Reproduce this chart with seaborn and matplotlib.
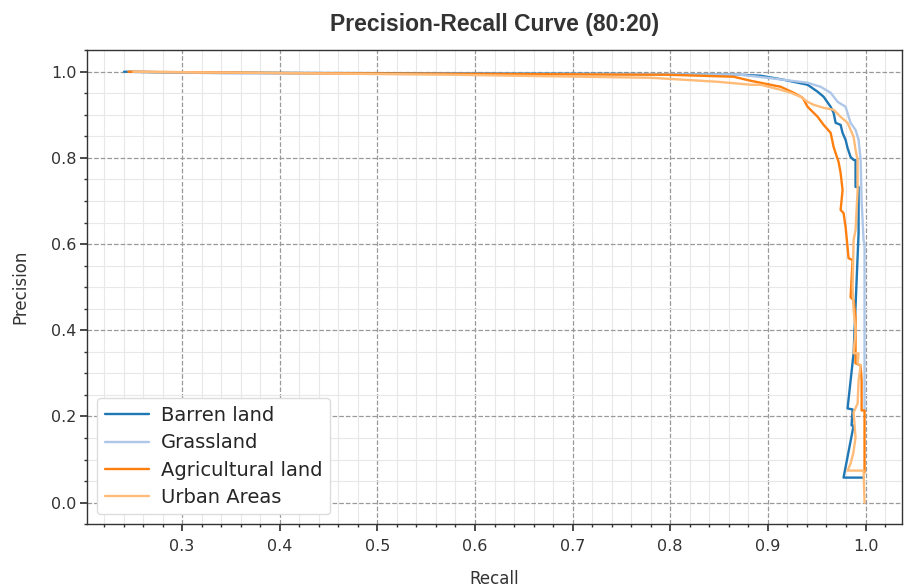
import matplotlib
matplotlib.use("Agg")
import matplotlib.pyplot as plt
import seaborn as sns
import pandas as pd
from matplotlib import font_manager
from matplotlib.ticker import MultipleLocator

# ---- data ----
classes = ["Barren land", "Grassland", "Agricultural land", "Urban Areas"]

barren_recall = [0.2406, 0.30, 0.45, 0.60, 0.75, 0.8722, 0.8926, 0.9162, 0.9407, 0.951,
                 0.9571, 0.9643, 0.9673, 0.9694, 0.9745, 0.9765, 0.9796, 0.9816, 0.9847,
                 0.9878, 0.9898, 0.9898, 0.9929, 0.9929, 0.9878, 0.9816, 0.9868, 0.9857,
                 0.9878, 0.9775, 0.998]
barren_precision = [1.0, 0.998, 0.997, 0.996, 0.995, 0.993, 0.9907, 0.9814, 0.9698, 0.9535,
                    0.9419, 0.9186, 0.9047, 0.8814, 0.8767, 0.8581, 0.8419, 0.8233, 0.8023,
                    0.7953, 0.7953, 0.7326, 0.7326, 0.6256, 0.3465, 0.2186, 0.2163, 0.1791,
                    0.1791, 0.0581, 0.0581]

grass_recall = [0.25, 0.35, 0.50, 0.65, 0.80, 0.8722, 0.9029, 0.9407, 0.954, 0.9643, 0.9714,
                0.9796, 0.9847, 0.9898, 0.9929, 0.995, 0.996, 0.997, 0.998, 0.999, 0.999]
grass_precision = [1.0, 0.996, 0.995, 0.995, 0.994, 0.993, 0.985, 0.9744, 0.9651, 0.9512,
                   0.9302, 0.9186, 0.8814, 0.8651, 0.8419, 0.7953, 0.70, 0.6558, 0.6093,
                   0.60, 0.21]

agri_recall = [0.245, 0.40, 0.60, 0.7974, 0.865, 0.8824, 0.9131, 0.9264, 0.9356, 0.9407,
               0.951, 0.9571, 0.9643, 0.9673, 0.9724, 0.9745, 0.9765, 0.9745, 0.9775, 0.9796,
               0.9816, 0.9826, 0.9868, 0.9847, 0.9878, 0.9898, 0.9898, 0.995, 0.996, 0.996,
               0.999, 0.999]
agri_precision = [1.0, 0.997, 0.995, 0.993, 0.9884, 0.979, 0.9651, 0.9512, 0.9395, 0.9186,
                  0.8953, 0.8767, 0.8581, 0.8256, 0.7907, 0.7651, 0.7256, 0.6791, 0.6721,
                  0.6395, 0.593, 0.5674, 0.5628, 0.4767, 0.4698, 0.4302, 0.3233, 0.3186,
                  0.2837, 0.214, 0.214, 0.07]

urban_recall = [0.25, 0.40, 0.5753, 0.78, 0.8138, 0.8486, 0.8824, 0.8926, 0.9131, 0.9233,
                0.9335, 0.9407, 0.9469, 0.9571, 0.9673, 0.9745, 0.9816, 0.9878, 0.9898,
                0.9919, 0.9919, 0.9898, 0.9878, 0.9868, 0.9878, 0.9898, 0.9878, 0.9929,
                0.9919, 0.995, 0.9929, 0.9919, 0.9878, 0.9898, 0.9875, 0.9847, 0.9816,
                0.998, 0.999]
urban_precision = [1.0, 0.997, 0.993, 0.986, 0.9814, 0.9767, 0.9698, 0.9698, 0.9581, 0.9512,
                   0.9419, 0.9302, 0.9233, 0.9163, 0.9116, 0.8953, 0.8814, 0.8488, 0.8186,
                   0.7953, 0.7256, 0.6326, 0.6093, 0.50, 0.4465, 0.40, 0.3465, 0.3465,
                   0.3233, 0.3186, 0.2837, 0.2302, 0.2093, 0.1512, 0.115, 0.0907, 0.0744,
                   0.0744, 0.0]

recalls = [barren_recall, grass_recall, agri_recall, urban_recall]
precisions = [barren_precision, grass_precision, agri_precision, urban_precision]
colors = ["#1f77b4", "#aec7e8", "#ff7f0e", "#ffbb78"]

# ---- styling ----
sns.set_theme(style="ticks")
plt.rcParams["font.family"] = ["DejaVu Sans"]

avail = {f.name for f in font_manager.fontManager.ttflist}
title_font = "Liberation Sans Narrow" if "Liberation Sans Narrow" in avail else "Liberation Sans"

fig = plt.figure(figsize=(9.07, 5.87), dpi=100)
ax = fig.add_axes([0.096, 0.107, 0.898, 0.8075])

for i, name in enumerate(classes):
    df = pd.DataFrame({"Recall": recalls[i], "Precision": precisions[i]})
    sns.lineplot(data=df, x="Recall", y="Precision", sort=False, estimator=None,
                 color=colors[i], lw=1.7, label=name, ax=ax)

ax.xaxis.set_major_locator(MultipleLocator(0.1))
ax.xaxis.set_minor_locator(MultipleLocator(0.02))
ax.yaxis.set_major_locator(MultipleLocator(0.2))
ax.yaxis.set_minor_locator(MultipleLocator(0.05))
ax.grid(which="major", linestyle="--", color="#999999", linewidth=0.9)
ax.grid(which="minor", linestyle="-", color="#e8e8e8", linewidth=0.8)
ax.set_axisbelow(True)
ax.tick_params(axis="both", which="major", labelsize=11.5, length=5, color="#333333", labelcolor="#333333")
ax.tick_params(axis="x", which="major", pad=6)
ax.tick_params(axis="y", which="major", pad=2.5)
ax.tick_params(axis="both", which="minor", length=2.5, color="#333333")
for s in ax.spines.values():
    s.set_color("#333333")
    s.set_linewidth(1.0)

ax.set_xlabel("Recall", fontsize=12, labelpad=11, color="#333333")
ax.set_ylabel("Precision", fontsize=12, labelpad=16, color="#333333")
ax.set_title("Precision-Recall Curve (80:20)", fontsize=16.5, fontweight="bold",
             family=title_font, color="#333333", pad=14)

leg = ax.legend(loc="lower left", fontsize=14, frameon=True, handlelength=2.3,
                handletextpad=0.6, borderpad=0.4, labelspacing=0.42)
leg.get_frame().set_edgecolor("#dddddd")
leg.get_frame().set_alpha(1.0)

fig.savefig("out.png", dpi=100)
